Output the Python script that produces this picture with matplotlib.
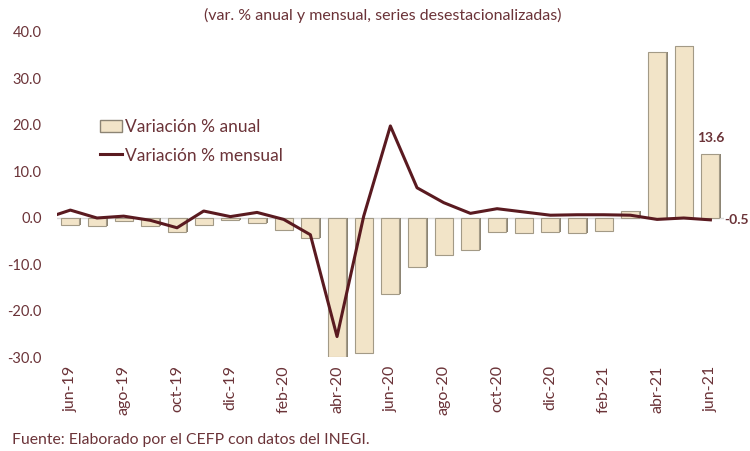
import numpy as np
import matplotlib.pyplot as plt
from matplotlib.patches import Patch
from matplotlib.lines import Line2D

# Datos (var. % anual y mensual, series desestacionalizadas)
meses = ['jun-19', 'jul-19', 'ago-19', 'sep-19', 'oct-19', 'nov-19', 'dic-19',
         'ene-20', 'feb-20', 'mar-20', 'abr-20', 'may-20', 'jun-20', 'jul-20',
         'ago-20', 'sep-20', 'oct-20', 'nov-20', 'dic-20', 'ene-21', 'feb-21',
         'mar-21', 'abr-21', 'may-21', 'jun-21']
anual = [-1.7, -1.9, -0.8, -1.9, -3.2, -1.5, -0.6, -1.1, -2.6, -4.4, -29.9,
         -29.2, -16.4, -10.7, -8.0, -6.9, -3.1, -3.3, -3.1, -3.4, -2.8, 1.3,
         35.7, 36.8, 13.6]
# serie mensual empieza un mes antes (may-19), recortada en el borde
mensual = [-0.3, 1.6, -0.1, 0.3, -0.6, -2.2, 1.4, 0.2, 1.1, -0.4, -3.7, -25.6,
           0.3, 19.7, 6.4, 3.2, 0.9, 1.9, 1.2, 0.5, 0.6, 0.6, 0.5, -0.4, -0.1,
           -0.5]

TXT = '#6b3338'
LINEA = '#5a1a20'
plt.rcParams['font.family'] = ['Lato', 'DejaVu Sans']

fig = plt.figure(figsize=(7.5, 4.51), dpi=100)
ax = fig.add_axes([0.076, 0.2084, 0.889, 0.7216])

x = np.arange(len(meses))
xm = np.arange(len(mensual)) - 1

# sombra para dar efecto de relieve a las barras
ax.bar(x + 0.06, anual, width=0.68, color='#8c8474', zorder=2)
ax.bar(x, anual, width=0.68, color='#f2e4c8', edgecolor='#a39a86',
       linewidth=0.8, zorder=3)
ax.axhline(0, color='#d9d9d9', lw=1.0, zorder=1)
ax.plot(xm, mensual, color=LINEA, lw=2.2, zorder=4, clip_on=True)

ax.set_xlim(-0.5, len(meses) - 0.5)
ax.set_ylim(-30, 40)
ax.set_yticks(np.arange(-30, 41, 10))
ax.set_yticklabels([f'{v:.1f}' for v in np.arange(-30, 41, 10)])
ax.set_xticks(x[::2])
ax.set_xticklabels(meses[::2], rotation=90)
ax.tick_params(axis='both', length=0, colors=TXT)
ax.tick_params(axis='y', pad=11, labelsize=10.5)
ax.tick_params(axis='x', pad=6, labelsize=11.5)
for s in ax.spines.values():
    s.set_visible(False)

# etiquetas del último dato
ax.text(x[-1], anual[-1] + 2.2, f'{anual[-1]:.1f}', ha='center', va='bottom',
        fontsize=10, fontweight='bold', color=TXT)
ax.text(x[-1] + 0.5, mensual[-1], f'{mensual[-1]:.1f}', ha='left',
        va='center', fontsize=10, fontweight='bold', color=TXT)

handles = [Patch(facecolor='#f2e4c8', edgecolor='#8c8474'),
           Line2D([0], [0], color=LINEA, lw=2.2)]
fig.legend(handles, ['Variación % anual', 'Variación % mensual'],
           loc='upper left', bbox_to_anchor=(0.112, 0.77), frameon=False,
           fontsize=12.5, labelcolor=TXT, handlelength=1.3, handletextpad=0.15,
           labelspacing=0.7)

fig.text(0.51, 0.965, '(var. % anual y mensual, series desestacionalizadas)',
         ha='center', va='center', fontsize=11.5, color=TXT)
fig.text(0.016, 0.025, 'Fuente: Elaborado por el CEFP con datos del INEGI.',
         ha='left', va='center', fontsize=11.3, color=TXT)

fig.savefig('out.png', dpi=100)
